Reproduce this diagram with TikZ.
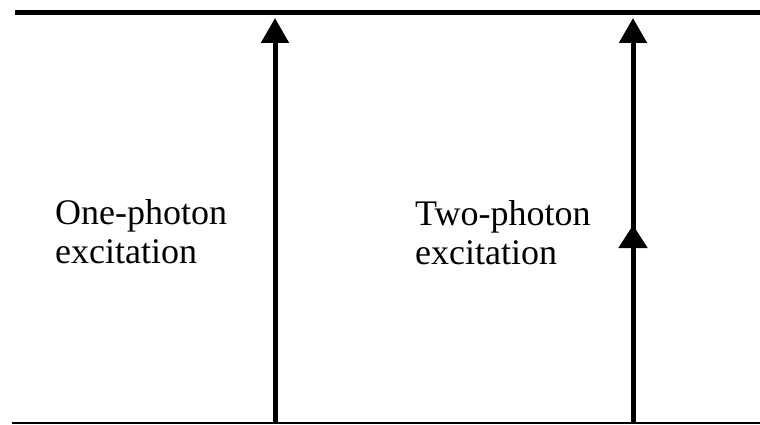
\documentclass[tikz,border=0pt]{standalone}
\usepackage{fontspec}
\setmainfont{Liberation Serif}
\usetikzlibrary{arrows.meta}
\begin{document}
\begin{tikzpicture}[x=1pt,y=-1pt,
  level/.style={line width=#1},
  arr/.style={line width=5pt,-{Triangle[length=25pt,width=27pt]}},
  midarr/.style={line width=5pt,-{Triangle[length=23pt,width=28pt]}},
  lbl/.style={anchor=base west,inner sep=0pt,align=left,font=\fontsize{36}{39}\selectfont}]
\useasboundingbox[fill=white] (0,0) rectangle (760,425);
% levels
\coordinate (tl) at (15,13);
\coordinate (tr) at (760,13);
\coordinate (bl) at (12,423);
\coordinate (br) at (760,423);
\draw[level=5pt] (tl) -- (tr);
\draw[level=2.5pt] (bl) -- (br);
% one-photon arrow
\coordinate (b1) at (275,423);
\coordinate (t1) at (275,18);
\draw[arr] (b1) -- (t1);
% two-photon arrows
\coordinate (b2) at (633,423);
\coordinate (m2) at (633,225);
\coordinate (t2) at (633,18);
\draw[arr] (b2) -- (t2);
\draw[midarr] (b2) -- (m2);
% labels
\node[lbl] (one) at (55,263) {One-photon\\excitation};
\node[lbl] (two) at (415,264) {Two-photon\\excitation};
\end{tikzpicture}
\end{document}
